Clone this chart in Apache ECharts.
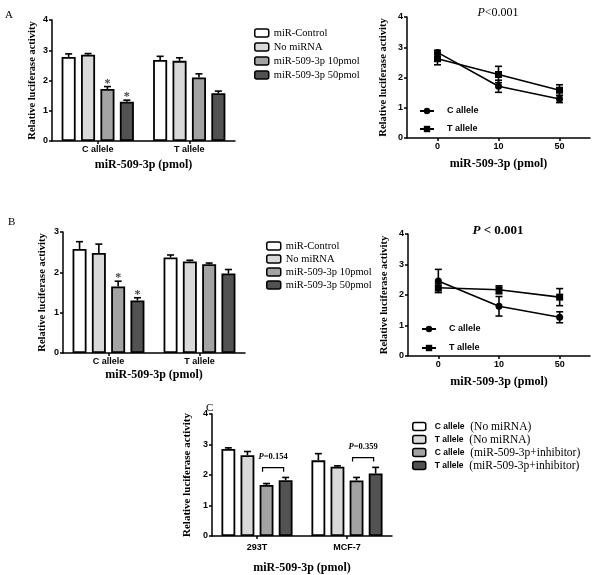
<!DOCTYPE html>
<html><head><meta charset="utf-8">
<script src="https://cdn.jsdelivr.net/npm/echarts@6/dist/echarts.min.js"></script>
<style>html,body{margin:0;padding:0;background:#fff}#c{width:600px;height:575px}</style>
</head><body><div id="c"></div>
<script>
// ---------- DATA ----------
const barNames = ['miR-Control', 'No miRNA', 'miR-509-3p 10pmol', 'miR-509-3p 50pmol'];
const alleleCats = ['C allele', 'T allele'];
// values[series][category]
const aBarMean = [[2.78, 2.68], [2.85, 2.65], [1.72, 2.10], [1.30, 1.58]];
const aBarErr  = [[0.10, 0.12], [0.04, 0.10], [0.08, 0.12], [0.05, 0.07]];
const aBarStar = [[0, 0], [0, 0], [1, 0], [1, 0]];
const bBarMean = [[2.58, 2.37], [2.48, 2.27], [1.65, 2.20], [1.30, 1.97]];
const bBarErr  = [[0.18, 0.06], [0.22, 0.03], [0.13, 0.03], [0.07, 0.10]];
const bBarStar = [[0, 0], [0, 0], [1, 0], [1, 0]];

const doseCats = ['0', '10', '50'];
const lineNames = ['C allele', 'T allele'];
const aLineMean = [[2.83, 1.71, 1.29], [2.62, 2.10, 1.58]];
const aLineErr  = [[0.07, 0.20, 0.12], [0.20, 0.27, 0.18]];
const bLineMean = [[2.46, 1.63, 1.27], [2.24, 2.17, 1.93]];
const bLineErr  = [[0.38, 0.32, 0.18], [0.15, 0.13, 0.28]];

const cellCats = ['293T', 'MCF-7'];
const cNames = ['C allele (No miRNA)', 'T allele (No miRNA)', 'C allele (miR-509-3p+inhibitor)', 'T allele (miR-509-3p+inhibitor)'];
const cBarMean = [[2.85, 2.48], [2.65, 2.27], [1.67, 1.82], [1.83, 2.05]];
const cBarErr  = [[0.04, 0.22], [0.12, 0.03], [0.05, 0.10], [0.09, 0.20]];
const cPvals = ['0.154', '0.359'];
const cBracketTop = [2.24, 2.57];
const cBracketLeg = [2.11, 2.44];
const cPvalY = [2.60, 2.91];

const yTitle = 'Relative luciferase activity';
const xTitle = 'miR-509-3p (pmol)';

// ---------- STYLE ----------
const barColors = ['#ffffff', '#d9d9d9', '#a3a3a3', '#525252'];
const CAT_GAP = 0.21, BAR_GAP = 0.38;
const SERIF = '"Liberation Serif", "Times New Roman", serif';
const SANS = '"Liberation Sans", Arial, sans-serif';

function yAx(grid, max, nameGap, nameSize) {
  return {
    gridIndex: grid, type: 'value', min: 0, max: max, interval: 1,
    name: yTitle, nameLocation: 'middle', nameGap: nameGap,
    nameTextStyle: { fontFamily: SERIF, fontWeight: 'bold', fontSize: nameSize, color: '#000' },
    axisLine: { show: true, lineStyle: { color: '#000', width: 1.5 } },
    axisTick: { show: true, length: 3, lineStyle: { color: '#000', width: 1.5 } },
    axisLabel: { fontFamily: SANS, fontWeight: 'bold', fontSize: 9, color: '#000', margin: 4 },
    splitLine: { show: false }
  };
}
function xAx(grid, data, nameGap, labelMargin) {
  return {
    gridIndex: grid, type: 'category', data: data,
    name: xTitle, nameLocation: 'middle', nameGap: nameGap,
    nameTextStyle: { fontFamily: SERIF, fontWeight: 'bold', fontSize: 12, color: '#000' },
    axisLine: { show: true, lineStyle: { color: '#000', width: 1.5 } },
    axisTick: { show: true, alignWithLabel: true, length: 3, lineStyle: { color: '#000', width: 1.5 } },
    axisLabel: { fontFamily: SANS, fontWeight: 'bold', fontSize: 9, color: '#000', margin: labelMargin },
    splitLine: { show: false }
  };
}

function barErrRender(params, api) {
  const i = api.value(0), v = api.value(1), e = api.value(2), k = api.value(3), star = api.value(4);
  const band = api.size([1, 0])[0];
  const groupW = band * (1 - CAT_GAP);
  const bw = groupW / (4 + 3 * BAR_GAP);
  const base = api.coord([i, v]);
  const cx = base[0] - groupW / 2 + bw / 2 + k * bw * (1 + BAR_GAP);
  const y0 = base[1];
  const y1 = api.coord([i, v + e])[1];
  const cap = bw * 0.5;
  const st = { stroke: '#000', lineWidth: 1.6 };
  const ch = [
    { type: 'line', shape: { x1: cx, y1: y0, x2: cx, y2: y1 }, style: st },
    { type: 'line', shape: { x1: cx - cap / 2, y1: y1, x2: cx + cap / 2, y2: y1 }, style: st }
  ];
  if (star) ch.push({ type: 'text', style: { text: '*', x: cx, y: y1 - 3, align: 'center', verticalAlign: 'middle', font: 'bold 12px ' + SERIF, fill: '#444' } });
  return { type: 'group', children: ch };
}
function lineErrRender(params, api) {
  const x = api.value(0), v = api.value(1), e = api.value(2);
  const p = api.coord([x, v]);
  const t = api.coord([x, v + e])[1];
  const b = api.coord([x, v - e])[1];
  const c = 3.5;
  const st = { stroke: '#000', lineWidth: 1.6 };
  return { type: 'group', children: [
    { type: 'line', shape: { x1: p[0], y1: t, x2: p[0], y2: b }, style: st },
    { type: 'line', shape: { x1: p[0] - c, y1: t, x2: p[0] + c, y2: t }, style: st },
    { type: 'line', shape: { x1: p[0] - c, y1: b, x2: p[0] + c, y2: b }, style: st }
  ] };
}
function bracketRender(params, api) {
  const i = api.value(0), top = api.value(1), leg = api.value(2), py = api.value(3), idx = api.value(4);
  const band = api.size([1, 0])[0];
  const groupW = band * (1 - CAT_GAP);
  const bw = groupW / (4 + 3 * BAR_GAP);
  const c0 = api.coord([i, top]);
  const xa = c0[0] - groupW / 2 + bw / 2 + 2 * bw * (1 + BAR_GAP) - 4;
  const xb = c0[0] - groupW / 2 + bw / 2 + 3 * bw * (1 + BAR_GAP) - 2;
  const yt = c0[1];
  const yl = api.coord([i, leg])[1];
  const yp = api.coord([i, py])[1];
  return { type: 'group', children: [
    { type: 'polyline', shape: { points: [[xa, yl], [xa, yt], [xb, yt], [xb, yl]] }, style: { stroke: '#000', lineWidth: 1.2, fill: null } },
    { type: 'text', style: { text: '{i|P}{n|=' + cPvals[idx] + '}', x: (xa + xb) / 2, y: yp, align: 'center', verticalAlign: 'middle',
      rich: { i: { fontFamily: SERIF, fontStyle: 'italic', fontWeight: 'bold', fontSize: 8.5, fill: '#000' }, n: { fontFamily: SERIF, fontWeight: 'bold', fontSize: 8.5, fill: '#000' } } } }
  ] };
}

function barSeries(names, means, axis) {
  return names.map((n, k) => ({
    name: n, type: 'bar', xAxisIndex: axis, yAxisIndex: axis,
    barCategoryGap: (CAT_GAP * 100) + '%', barGap: (BAR_GAP * 100) + '%',
    itemStyle: { color: barColors[k], borderColor: '#000', borderWidth: 1.8 },
    data: means[k], silent: true, animation: false
  }));
}
function barErrSeries(means, errs, stars, axis) {
  const d = [];
  means.forEach((row, k) => row.forEach((v, i) => d.push([i, v, errs[k][i], k, stars ? stars[k][i] : 0])));
  return { type: 'custom', xAxisIndex: axis, yAxisIndex: axis, renderItem: barErrRender, data: d, z: 5, silent: true, animation: false };
}
function lineSeries(means, errs, axis) {
  const out = [];
  const syms = ['circle', 'rect'];
  means.forEach((row, k) => {
    out.push({ name: lineNames[k], type: 'line', xAxisIndex: axis, yAxisIndex: axis, data: row,
      symbol: syms[k], symbolSize: 7, showSymbol: true,
      lineStyle: { color: '#000', width: 1.6 }, itemStyle: { color: '#000' }, z: 4, silent: true, animation: false });
    out.push({ type: 'custom', xAxisIndex: axis, yAxisIndex: axis, renderItem: lineErrRender,
      data: row.map((v, i) => [i, v, errs[k][i]]), z: 5, silent: true, animation: false });
  });
  return out;
}

const series = [].concat(
  barSeries(barNames, aBarMean, 0), [barErrSeries(aBarMean, aBarErr, aBarStar, 0)],
  lineSeries(aLineMean, aLineErr, 1),
  barSeries(barNames, bBarMean, 2), [barErrSeries(bBarMean, bBarErr, bBarStar, 2)],
  lineSeries(bLineMean, bLineErr, 3),
  barSeries(cNames, cBarMean, 4), [barErrSeries(cBarMean, cBarErr, null, 4)],
  [{ type: 'custom', xAxisIndex: 4, yAxisIndex: 4, renderItem: bracketRender, z: 6, silent: true, animation: false,
     data: cellCats.map((c, i) => [i, cBracketTop[i], cBracketLeg[i], cPvalY[i], i]) }]
);

const barLegendBase = {
  orient: 'vertical', itemWidth: 14, itemHeight: 8, selectedMode: false,
  textStyle: { fontFamily: SERIF, fontSize: 10.5, color: '#000', lineHeight: 12 },
  itemStyle: { borderColor: '#000', borderWidth: 1.5 }
};
const lineLegendBase = {
  orient: 'vertical', itemWidth: 14, itemHeight: 8, selectedMode: false, data: lineNames,
  textStyle: { fontFamily: SANS, fontWeight: 'bold', fontSize: 9, color: '#000', lineHeight: 12, padding: [0, 0, 0, 8] }
};

const option = {
  backgroundColor: '#fff',
  animation: false,
  grid: [
    { left: 52, top: 20, width: 183, height: 121 },
    { left: 407, top: 17, width: 183, height: 121 },
    { left: 63, top: 232, width: 182, height: 121 },
    { left: 408, top: 234, width: 182, height: 122 },
    { left: 212, top: 414, width: 180, height: 122 }
  ],
  xAxis: [
    xAx(0, alleleCats, 18, 4.5),
    xAx(1, doseCats, 20, 4.5),
    xAx(2, alleleCats, 16, 4.5),
    xAx(3, doseCats, 20, 4.5),
    xAx(4, cellCats, 26, 7)
  ],
  yAxis: [
    yAx(0, 4, 14, 10.5),
    yAx(1, 4, 18, 10.5),
    yAx(2, 3, 15, 10.5),
    yAx(3, 4, 18, 10.5),
    yAx(4, 4, 19, 11)
  ],
  legend: [
    Object.assign({}, barLegendBase, { data: barNames, left: 249, top: 22, itemGap: 2 }),
    Object.assign({}, barLegendBase, { data: barNames, left: 261, top: 235, itemGap: 1 }),
    Object.assign({}, lineLegendBase, { left: 414, top: 100, itemGap: 6 }),
    Object.assign({}, lineLegendBase, { left: 416, top: 318, itemGap: 7 }),
    Object.assign({}, barLegendBase, { data: cNames, left: 407, top: 415, itemGap: 0, itemWidth: 13,
      textStyle: { color: '#000', lineHeight: 13,
        rich: { a: { fontFamily: SANS, fontWeight: 'bold', fontSize: 8.5, color: '#000', padding: [0, 0, 0, 4] },
                b: { fontFamily: SERIF, fontSize: 11.5, color: '#000' } } },
      formatter: function (n) { const i = n.indexOf(' ('); return '{a|' + n.slice(0, i) + '}{b|  ' + n.slice(i + 1) + '}'; } })
  ],
  graphic: [
    { type: 'text', left: 5, top: 10, style: { text: 'A', font: '11px ' + SERIF, fill: '#000' } },
    { type: 'text', left: 8, top: 217, style: { text: 'B', font: '11px ' + SERIF, fill: '#000' } },
    { type: 'text', left: 206, top: 403, style: { text: 'C', font: '11px ' + SERIF, fill: '#000' } },
    { type: 'text', x: 498, y: 13, style: { text: '{i|P}{n|<0.001}', align: 'center', verticalAlign: 'middle',
      rich: { i: { fontFamily: SERIF, fontStyle: 'italic', fontSize: 12, fill: '#000' }, n: { fontFamily: SERIF, fontSize: 12, fill: '#000' } } } },
    { type: 'text', x: 498, y: 231, style: { text: '{i|P}{n| < 0.001}', align: 'center', verticalAlign: 'middle',
      rich: { i: { fontFamily: SERIF, fontStyle: 'italic', fontWeight: 'bold', fontSize: 13, fill: '#000' }, n: { fontFamily: SERIF, fontWeight: 'bold', fontSize: 13, fill: '#000' } } } }
  ],
  series: series
};

const chart = echarts.init(document.getElementById('c'), null, { renderer: 'canvas' });
chart.setOption(option);
</script>
</body></html>
